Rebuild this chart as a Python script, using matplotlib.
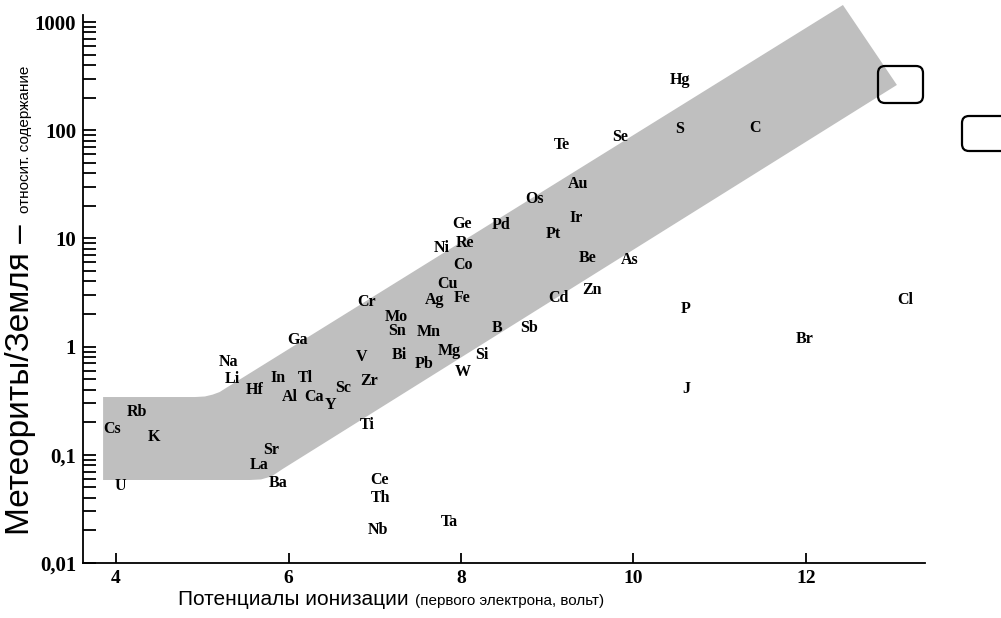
import numpy as np
import matplotlib
matplotlib.use('Agg')
import matplotlib.pyplot as plt
from matplotlib.patches import FancyBboxPatch
from matplotlib.transforms import IdentityTransform
from matplotlib.ticker import LogLocator, NullFormatter

# элементы: потенциал ионизации (эВ) и отношение метеориты/Земля
elements = ['Hg', 'Te', 'Se', 'S', 'C', 'Au', 'Os', 'Ir', 'Ge', 'Pd', 'Pt', 'Ni', 'Re',
            'Be', 'As', 'Co', 'Cu', 'Zn', 'Ag', 'Fe', 'Cd', 'Cr', 'P', 'Cl', 'Mo', 'Sn',
            'Mn', 'B', 'Sb', 'Ga', 'Br', 'V', 'Bi', 'Mg', 'Pb', 'Si', 'Na', 'W', 'Li',
            'In', 'Tl', 'Zr', 'Hf', 'Sc', 'Al', 'Ca', 'Y', 'J', 'Rb', 'Cs', 'K', 'Ti',
            'Sr', 'La', 'U', 'Ba', 'Ce', 'Th', 'Nb', 'Ta']
ion_pot = [10.54, 9.17, 9.84, 10.53, 11.41, 9.36, 8.85, 9.33, 8.01, 8.46, 9.07, 7.78, 8.05,
           9.47, 9.95, 8.02, 7.84, 9.52, 7.69, 8.01, 9.13, 6.90, 10.61, 13.15, 7.25, 7.26,
           7.63, 8.42, 8.79, 6.10, 11.98, 6.85, 7.28, 7.86, 7.57, 8.24, 5.30, 8.02, 5.35,
           5.88, 6.20, 6.93, 5.61, 6.63, 6.02, 6.30, 6.49, 10.61, 4.24, 3.95, 4.44, 6.91,
           5.80, 5.66, 4.05, 5.88, 7.05, 7.07, 7.04, 7.86]
ratio = [291, 72.9, 86.5, 102.6, 104.8, 31.8, 23.1, 15.4, 13.6, 13.3, 11.0, 8.15, 9.06,
         6.59, 6.31, 5.67, 3.79, 3.34, 2.70, 2.82, 2.82, 2.58, 2.23, 2.70, 1.88, 1.39,
         1.36, 1.49, 1.49, 1.15, 1.18, 0.80, 0.836, 0.91, 0.69, 0.836, 0.721, 0.582, 0.502,
         0.513, 0.513, 0.481, 0.397, 0.414, 0.342, 0.342, 0.288, 0.406, 0.249, 0.173, 0.146, 0.188,
         0.111, 0.0806, 0.0515, 0.0548, 0.0585, 0.0399, 0.0202, 0.0239]

# серая полоса (контур)
band_x = [3.849, 4.92, 5.03, 5.12, 5.20, 5.27, 12.429, 13.055, 5.93, 5.80, 5.68, 5.55, 3.849]
band_y = [0.342, 0.342, 0.346, 0.36, 0.38, 0.412, 1436, 262, 0.0738, 0.063, 0.0592, 0.0585, 0.0585]

xticks = [4, 6, 8, 10, 12]
yticks = [0.01, 0.1, 1, 10, 100, 1000]
ytick_labels = ['0,01', '0,1', '1', '10', '100', '1000']

serif = 'Liberation Serif'
sans = 'Liberation Sans'

fig = plt.figure(figsize=(10.01, 6.18), dpi=100)
ax = fig.add_axes([0.083, 0.089, 0.841, 0.887])
ax.set_yscale('log')
ax.set_xlim(3.617, 13.38)
ax.set_ylim(0.01, 1165)

ax.fill(band_x, band_y, color='#bfbfbf', lw=0, clip_on=False, zorder=1)

for name, x, y in zip(elements, ion_pot, ratio):
    ax.text(x, y, name, ha='center', va='center', fontsize=11.5, fontweight='bold',
            family=serif, zorder=3, clip_on=False)

ax.spines['top'].set_visible(False)
ax.spines['right'].set_visible(False)
for s in ['left', 'bottom']:
    ax.spines[s].set_linewidth(1.3)

ax.set_xticks(xticks)
ax.set_xticklabels([str(t) for t in xticks])
ax.set_yticks(yticks)
ax.set_yticklabels(ytick_labels)
ax.yaxis.set_minor_locator(LogLocator(base=10, subs=np.arange(2, 10)))
ax.yaxis.set_minor_formatter(NullFormatter())
ax.tick_params(axis='x', direction='in', length=7, width=1.3, pad=5, labelsize=14)
ax.tick_params(axis='y', which='both', direction='in', length=9, width=1.3, pad=5, labelsize=15)
for lab in ax.get_xticklabels() + ax.get_yticklabels():
    lab.set_family(serif)
    lab.set_fontweight('bold')

# подписи осей из двух частей разного размера
r = fig.canvas.get_renderer()
ybig = fig.text(29 / 1001, 1 - 535 / 618, 'Метеориты/Земля – ', rotation=90,
                rotation_mode='anchor', ha='left', va='baseline', fontsize=24, family=sans)
bb = ybig.get_window_extent(r)
fig.text(29 / 1001, (bb.y1 + 2) / 618, 'относит. содержание', rotation=90,
         rotation_mode='anchor', ha='left', va='baseline', fontsize=11, family=sans)

xbig = fig.text(178 / 1001, 1 - 605 / 618, 'Потенциалы ионизации ', ha='left', va='baseline',
                fontsize=15, family=sans)
bb = xbig.get_window_extent(r)
fig.text((bb.x1 + 1) / 1001, 1 - 605 / 618, '(первого электрона, вольт)', ha='left',
         va='baseline', fontsize=11, family=sans)

# рамки со скругленными углами (как на скане)
for (x0, y0, w, h) in [(878, 618 - 103, 45, 37), (962, 618 - 151, 60, 35)]:
    fig.patches.append(FancyBboxPatch((x0, y0), w, h, boxstyle='round,pad=0,rounding_size=7',
                                      transform=IdentityTransform(), fill=False,
                                      edgecolor='black', linewidth=1.6))

fig.savefig('out.png', dpi=100)
